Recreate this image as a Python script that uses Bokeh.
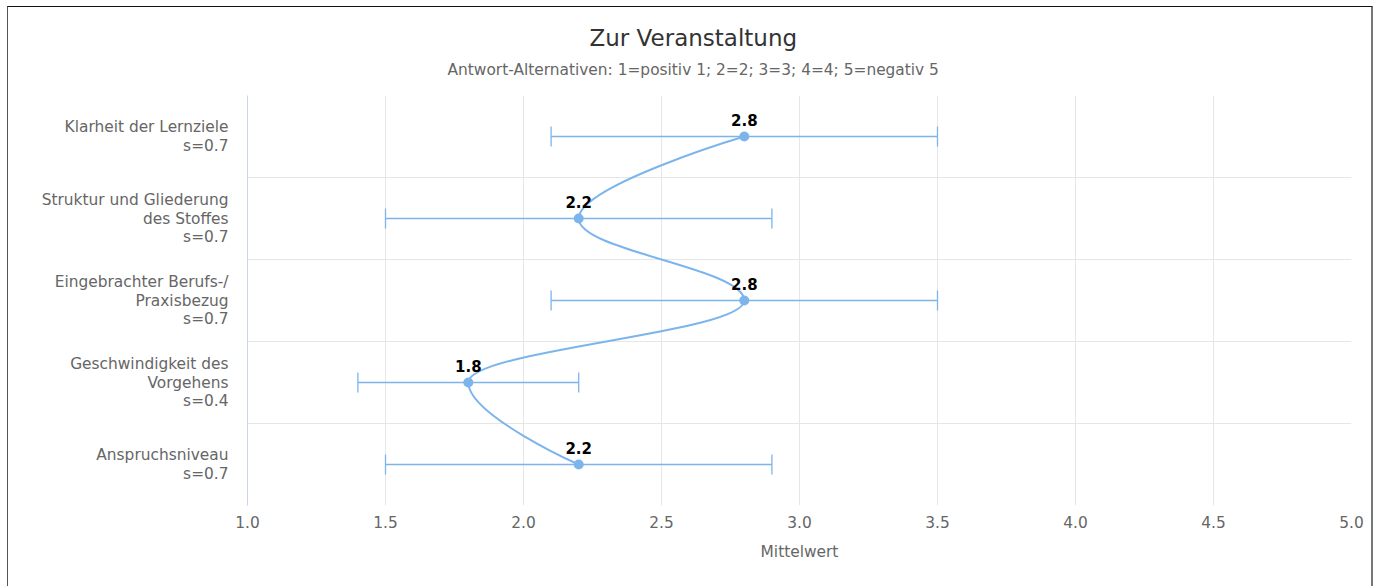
import numpy as np
from bokeh.plotting import figure
from bokeh.models import Range1d, FixedTicker, Title, ColumnDataSource
from bokeh.core.properties import value
from bokeh.embed import file_html
from bokeh.resources import INLINE

# ---------------- data ----------------
categories = [
    "Klarheit der Lernziele",
    "Struktur und Gliederung\ndes Stoffes",
    "Eingebrachter Berufs-/\nPraxisbezug",
    "Geschwindigkeit des\nVorgehens",
    "Anspruchsniveau",
]
means = [2.8, 2.2, 2.8, 1.8, 2.2]
sds = [0.7, 0.7, 0.7, 0.4, 0.7]
x_ticks = [1.0, 1.5, 2.0, 2.5, 3.0, 3.5, 4.0, 4.5, 5.0]
title_text = "Zur Veranstaltung"
subtitle_text = "Antwort-Alternativen: 1=positiv 1; 2=2; 3=3; 4=4; 5=negativ 5"
x_title = "Mittelwert"

FONT = "DejaVu Sans"
COLOR = "#7cb5ec"
FS = "15.4px"

n = len(categories)
ypos = [n - 0.5 - i for i in range(n)]
low = [m - s for m, s in zip(means, sds)]
high = [m + s for m, s in zip(means, sds)]
labels = [f"{c}\ns={s}" for c, s in zip(categories, sds)]

src = ColumnDataSource(dict(y=ypos, m=means, lo=low, hi=high,
                            lab=[f"{m:.1f}" for m in means]))

p = figure(width=1366, height=580, output_backend="svg", toolbar_location=None,
           x_range=Range1d(1.0, 5.0), y_range=Range1d(0, n),
           min_border_left=239, min_border_right=23, min_border_top=88,
           min_border_bottom=82, background_fill_color="white",
           border_fill_color="white", outline_line_color=None)
p.title = None
p.styles = {"border-top": "1px solid #111111", "border-left": "1px solid #555555",
            "border-right": "2px solid #777777",
            "margin-left": "7px", "margin-top": "6px"}

p.add_layout(Title(text=subtitle_text, align="left", offset=200, standoff=34,
                   text_font=FONT, text_font_size=FS, text_font_style="normal",
                   text_color="#666666"), "above")
p.add_layout(Title(text=title_text, align="left", offset=342, standoff=-19,
                   text_font=FONT, text_font_size="23px", text_font_style="normal",
                   text_color="#333333"), "above")

# axes
p.xaxis.ticker = FixedTicker(ticks=x_ticks)
p.xaxis.major_label_overrides = {t: f"{t:.1f}" for t in x_ticks}
p.xaxis.axis_line_color = None
p.xaxis.major_tick_line_color = None
p.xaxis.minor_tick_line_color = None
p.xaxis.major_tick_out = 0
p.xaxis.major_tick_in = 0
p.xaxis.major_label_standoff = 10
p.xaxis.major_label_text_font = FONT
p.xaxis.major_label_text_font_size = FS
p.xaxis.major_label_text_color = "#666666"
p.xaxis.axis_label = x_title
p.xaxis.axis_label_standoff = 12
p.xaxis.axis_label_text_font = FONT
p.xaxis.axis_label_text_font_size = FS
p.xaxis.axis_label_text_font_style = "normal"
p.xaxis.axis_label_text_color = "#666666"

p.yaxis.ticker = FixedTicker(ticks=ypos)
p.yaxis.major_label_overrides = {y: l for y, l in zip(ypos, labels)}
p.yaxis.axis_line_color = "#ccd6eb"
p.yaxis.major_tick_line_color = None
p.yaxis.minor_tick_line_color = None
p.yaxis.major_tick_out = 0
p.yaxis.major_tick_in = 0
p.yaxis.major_label_standoff = 19
p.yaxis.major_label_text_font = FONT
p.yaxis.major_label_text_font_size = FS
p.yaxis.major_label_text_color = "#666666"
p.yaxis.major_label_text_line_height = 1.05

p.xgrid.ticker = FixedTicker(ticks=x_ticks)
p.xgrid.grid_line_color = "#e6e6e6"
p.ygrid.ticker = FixedTicker(ticks=list(range(n + 1)))
p.ygrid.grid_line_color = "#e6e6e6"

# error bars
p.segment(x0="lo", y0="y", x1="hi", y1="y", source=src, line_color=COLOR, line_width=1.3)
p.scatter(x="lo", y="y", source=src, marker="dash", angle=np.pi / 2, size=20,
          line_color=COLOR, line_width=1.3)
p.scatter(x="hi", y="y", source=src, marker="dash", angle=np.pi / 2, size=20,
          line_color=COLOR, line_width=1.3)

# spline (Highcharts-style control points computed from the data)
def spline_controls(cx, vy, smoothing=1.5):
    denom = smoothing + 1
    k = len(cx)
    left = [None] * k
    right = [None] * k
    for i in range(1, k - 1):
        px, py = cx[i], vy[i]
        lx, ly = cx[i - 1], vy[i - 1]
        nx, ny = cx[i + 1], vy[i + 1]
        lcx = (smoothing * px + lx) / denom
        lcy = (smoothing * py + ly) / denom
        rcx = (smoothing * px + nx) / denom
        rcy = (smoothing * py + ny) / denom
        if rcx != lcx:
            corr = ((rcy - lcy) * (rcx - px)) / (rcx - lcx) + py - rcy
            lcy += corr
            rcy += corr
        if lcy > ly and lcy > py:
            lcy = max(ly, py); rcy = 2 * py - lcy
        elif lcy < ly and lcy < py:
            lcy = min(ly, py); rcy = 2 * py - lcy
        if rcy > ny and rcy > py:
            rcy = max(ny, py); lcy = 2 * py - rcy
        elif rcy < ny and rcy < py:
            rcy = min(ny, py); lcy = 2 * py - rcy
        left[i] = (lcx, lcy)
        right[i] = (rcx, rcy)
    seg = dict(x0=[], y0=[], x1=[], y1=[], cx0=[], cy0=[], cx1=[], cy1=[])
    for i in range(1, k):
        r = right[i - 1] or (cx[i - 1], vy[i - 1])
        l = left[i] or (cx[i], vy[i])
        seg["y0"].append(cx[i - 1]); seg["x0"].append(vy[i - 1])
        seg["y1"].append(cx[i]); seg["x1"].append(vy[i])
        seg["cy0"].append(r[0]); seg["cx0"].append(r[1])
        seg["cy1"].append(l[0]); seg["cx1"].append(l[1])
    return seg

seg = spline_controls(ypos, means)
p.bezier(source=ColumnDataSource(seg), x0="x0", y0="y0", x1="x1", y1="y1",
         cx0="cx0", cy0="cy0", cx1="cx1", cy1="cy1", line_color=COLOR, line_width=2)

p.scatter(x="m", y="y", source=src, size=10, fill_color=COLOR, line_color=None)

p.text(x="m", y="y", text="lab", source=src, y_offset=-17, text_align="center",
       text_baseline="middle", text_font=value(FONT), text_font_size="15px",
       text_font_style="bold", text_color="#000000")

open("out.html", "w").write(file_html(p, INLINE))
